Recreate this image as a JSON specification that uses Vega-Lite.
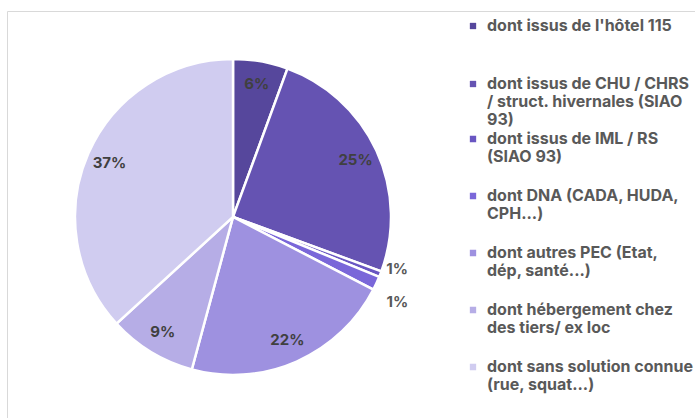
{
  "$schema": "https://vega.github.io/schema/vega-lite/v6.json",
  "width": 695,
  "height": 418,
  "autosize": {"type": "fit", "contains": "padding"},
  "padding": {"left": 7, "top": 11, "right": 0, "bottom": 0},
  "background": "white",
  "view": {"stroke": "#d9d9d9", "strokeWidth": 1},
  "data": {
    "values": [
      {"i": 1, "cat": "dont issus de l'hôtel 115", "v": 0.056},
      {"i": 2, "cat": "dont issus de CHU / CHRS / struct. hivernales (SIAO 93)", "v": 0.25},
      {"i": 3, "cat": "dont issus de IML / RS (SIAO 93)", "v": 0.006},
      {"i": 4, "cat": "dont DNA (CADA, HUDA, CPH...)", "v": 0.014},
      {"i": 5, "cat": "dont autres PEC (Etat, dép, santé...)", "v": 0.216},
      {"i": 6, "cat": "dont hébergement chez des tiers/ ex loc", "v": 0.09},
      {"i": 7, "cat": "dont sans solution connue (rue, squat...)", "v": 0.368}
    ]
  },
  "encoding": {
    "theta": {"field": "v", "type": "quantitative", "stack": true},
    "order": {"field": "i", "type": "ordinal"}
  },
  "layer": [
    {
      "mark": {"type": "arc", "outerRadius": 158, "stroke": "white", "strokeWidth": 2.5, "x": {"expr": "width * 0.3285"}, "y": {"expr": "height * 0.506"}},
      "encoding": {
        "color": {
          "field": "cat",
          "type": "nominal",
          "sort": null,
          "scale": {
            "domain": [
              "dont issus de l'hôtel 115",
              "dont issus de CHU / CHRS / struct. hivernales (SIAO 93)",
              "dont issus de IML / RS (SIAO 93)",
              "dont DNA (CADA, HUDA, CPH...)",
              "dont autres PEC (Etat, dép, santé...)",
              "dont hébergement chez des tiers/ ex loc",
              "dont sans solution connue (rue, squat...)"
            ],
            "range": ["#56479c", "#6553b2", "#6956c2", "#7a67d9", "#9e91e0", "#b6ade6", "#d0ccf0"]
          },
          "legend": {
            "title": null,
            "orient": "none",
            "legendX": 458,
            "legendY": -14,
            "padding": 0,
            "values": [
              "dont issus de l'hôtel 115",
              "dont issus de CHU / CHRS / struct. hivernales (SIAO 93)"
            ],
            "symbolType": "square",
            "symbolSize": 40,
            "symbolStrokeWidth": 0,
            "labelOffset": 6,
            "labelFont": "Inter",
            "labelFontSize": 16,
            "labelFontWeight": "bold",
            "labelColor": "#595959",
            "labelLimit": 300,
            "labelBaseline": "middle",
            "labelLineHeight": 20,
            "clipHeight": 58,
            "rowPadding": 0,
            "labelExpr": "{\"dont issus de CHU / CHRS / struct. hivernales (SIAO 93)\": [\"dont issus de CHU / CHRS\", \"/ struct. hivernales (SIAO\", \"93)\"]}[datum.label] || datum.label"
          }
        }
      }
    },
    {
      "mark": {"type": "arc", "outerRadius": 158, "stroke": "white", "strokeWidth": 2.5, "x": {"expr": "width * 0.3285"}, "y": {"expr": "height * 0.506"}},
      "encoding": {
        "color": {
          "field": "cat",
          "type": "nominal",
          "sort": null,
          "scale": {
            "domain": [
              "dont issus de l'hôtel 115",
              "dont issus de CHU / CHRS / struct. hivernales (SIAO 93)",
              "dont issus de IML / RS (SIAO 93)",
              "dont DNA (CADA, HUDA, CPH...)",
              "dont autres PEC (Etat, dép, santé...)",
              "dont hébergement chez des tiers/ ex loc",
              "dont sans solution connue (rue, squat...)"
            ],
            "range": ["#56479c", "#6553b2", "#6956c2", "#7a67d9", "#9e91e0", "#b6ade6", "#d0ccf0"]
          },
          "legend": {
            "title": null,
            "orient": "none",
            "legendX": 458,
            "legendY": 99.6,
            "padding": 0,
            "values": [
              "dont issus de IML / RS (SIAO 93)",
              "dont DNA (CADA, HUDA, CPH...)",
              "dont autres PEC (Etat, dép, santé...)",
              "dont hébergement chez des tiers/ ex loc",
              "dont sans solution connue (rue, squat...)"
            ],
            "symbolType": "square",
            "symbolSize": 40,
            "symbolStrokeWidth": 0,
            "labelOffset": 6,
            "labelFont": "Inter",
            "labelFontSize": 16,
            "labelFontWeight": "bold",
            "labelColor": "#595959",
            "labelLimit": 300,
            "labelBaseline": "middle",
            "labelLineHeight": 20,
            "clipHeight": 56.75,
            "rowPadding": 0,
            "labelExpr": "{\"dont issus de IML / RS (SIAO 93)\": [\"dont issus de IML / RS\", \"(SIAO 93)\"], \"dont DNA (CADA, HUDA, CPH...)\": [\"dont DNA (CADA, HUDA,\", \"CPH...)\"], \"dont autres PEC (Etat, dép, santé...)\": [\"dont autres PEC (Etat,\", \"dép, santé...)\"], \"dont hébergement chez des tiers/ ex loc\": [\"dont hébergement chez\", \"des tiers/ ex loc\"], \"dont sans solution connue (rue, squat...)\": [\"dont sans solution connue\", \"(rue, squat...)\"]}[datum.label] || datum.label"
          }
        }
      }
    },
    {
      "mark": {"type": "text", "font": "Inter", "fontSize": 15, "fontWeight": "bold", "radius": 135, "color": "#404040", "x": {"expr": "width * 0.3285"}, "y": {"expr": "height * 0.506"}},
      "encoding": {
        "text": {"condition": {"test": "datum.v < 0.02", "value": ""}, "field": "v", "type": "quantitative", "format": ".0%"}
      }
    },
    {
      "mark": {"type": "text", "font": "Inter", "fontSize": 15, "fontWeight": "bold", "radius": 176, "dy": -12, "color": "#595959", "x": {"expr": "width * 0.3285"}, "y": {"expr": "height * 0.506"}},
      "encoding": {
        "text": {"condition": {"test": "datum.i != 3", "value": ""}, "field": "v", "type": "quantitative", "format": ".0%"}
      }
    },
    {
      "mark": {"type": "text", "font": "Inter", "fontSize": 15, "fontWeight": "bold", "radius": 181, "dy": 9, "color": "#595959", "x": {"expr": "width * 0.3285"}, "y": {"expr": "height * 0.506"}},
      "encoding": {
        "text": {"condition": {"test": "datum.i != 4", "value": ""}, "field": "v", "type": "quantitative", "format": ".0%"}
      }
    }
  ],
  "resolve": {"scale": {"color": "independent"}, "legend": {"color": "independent"}}
}
